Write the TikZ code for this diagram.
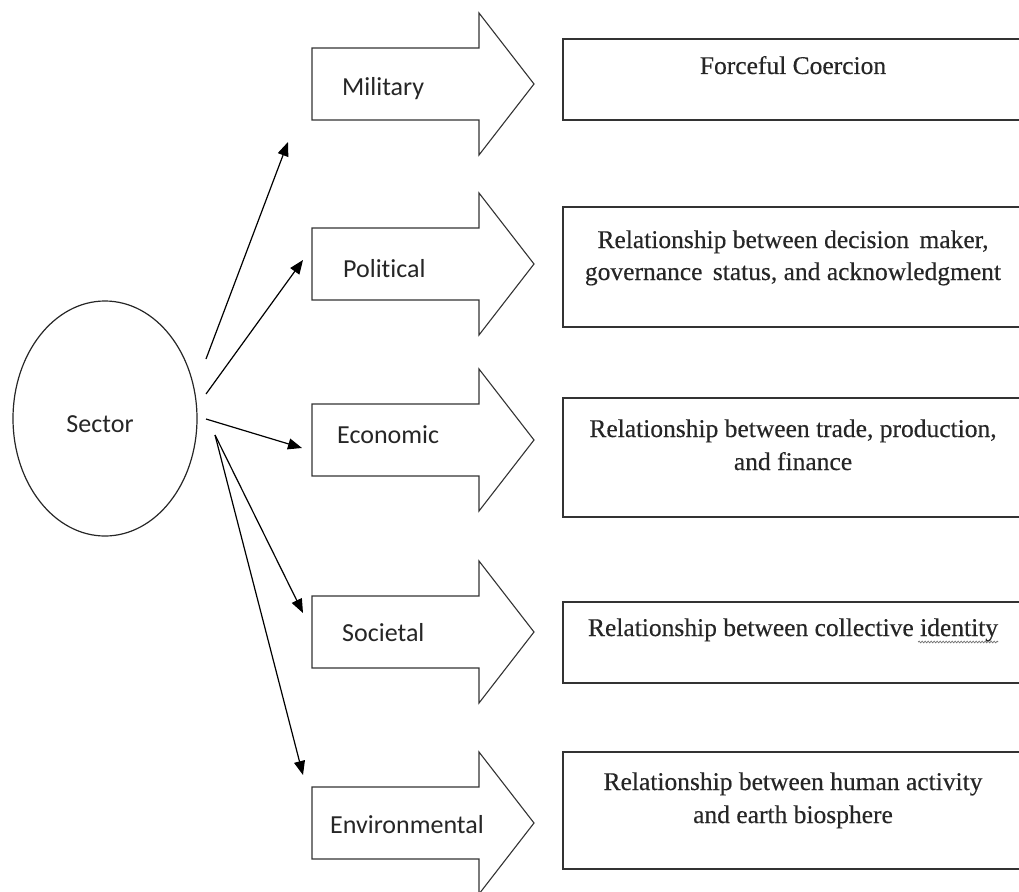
\documentclass[tikz,border=0pt]{standalone}
\usepackage{fontspec}
\setmainfont{Liberation Serif}
\newfontfamily\boxfont{Liberation Serif}[FakeBold=0.35]
\newfontfamily\lblfont{Carlito}[Ligatures=NoCommon]
\usetikzlibrary{arrows.meta,shapes.geometric,calc,decorations.pathmorphing}
\tikzset{
  pics/blockarrow/.style={code={
    \draw[blk] (0,-36) -- (167,-36) -- (167,-71) -- (222,0) -- (167,71) -- (167,36) -- (0,36) -- cycle;
  }},
}
\begin{document}
\begin{tikzpicture}[x=1pt,y=-1pt,
  blk/.style={draw=black!80, line width=1.1pt, line join=miter, fill=white},
  boxed/.style={draw=black!80, line width=1.8pt, fill=white, inner sep=0pt, anchor=north west, minimum width=462},
  lbl/.style={font=\lblfont\fontsize{26}{30}\selectfont, inner sep=0pt, anchor=base west, text=black!85},
  txt/.style={font=\boxfont\fontsize{25.5}{32}\selectfont, inner sep=0pt, anchor=base, text=black!85},
  conn/.style={line width=1.2pt, -{Triangle[length=14pt,width=11pt]}},
]
\useasboundingbox (0,0) rectangle (1019,891);

% sector ellipse
\node[draw=black!85, ellipse, line width=1.2pt, minimum width=184, minimum height=235, inner sep=0pt] (sector) at (105,418.5) {};
\node[font=\lblfont\fontsize{26}{30}\selectfont, inner sep=0pt, text=black!85] (sectortxt) at (100,424) {Sector};

% block arrows
\pic at (312,84) {blockarrow};
\pic at (312,264) {blockarrow};
\pic at (312,440) {blockarrow};
\pic at (312,632) {blockarrow};
\pic at (312,823) {blockarrow};

\node[lbl] (lM) at (342,95) {Military};
\node[lbl] (lP) at (343,277) {Political};
\node[lbl] (lE) at (337,443) {Economic};
\node[lbl] (lS) at (342,641) {Societal};
\node[lbl] (lV) at (330,833) {Environmental};

% boxes
\node[boxed, minimum height=81] (bM) at (562,38) {};
\node[boxed, minimum height=120] (bP) at (562,206) {};
\node[boxed, minimum height=119] (bE) at (562,397) {};
\node[boxed, minimum height=81] (bS) at (562,601) {};
\node[boxed, minimum height=117] (bV) at (562,751) {};

\node[txt] (tM) at (793,74) {Forceful Coercion};
\node[txt] (tP1) at (793,248) {Relationship between decision\hspace{4pt} maker,};
\node[txt] (tP2) at (793,280) {governance\hspace{4pt} status, and acknowledgment};
\node[txt] (tE1) at (793,437) {Relationship between trade, production,};
\node[txt] (tE2) at (793,470) {and finance};
\node[txt] (tS) at (793,636) {Relationship between collective identity};
\node[txt] (tV1) at (793,790) {Relationship between human activity};
\node[txt] (tV2) at (793,823) {and earth biosphere};

\draw[black!55, line width=0.8pt, decorate, decoration={snake, amplitude=0.8pt, segment length=3pt}]
  ($(tS.base east)+(-80,6)$) -- ($(tS.base east)+(0,6)$);

% connectors
\coordinate (m0) at (206,359); \coordinate (m1) at (288,142);
\coordinate (p0) at (206,394); \coordinate (p1) at (303,260);
\coordinate (e0) at (206,419); \coordinate (e1) at (302,448);
\coordinate (s0) at (215,435); \coordinate (s1) at (303,613);
\coordinate (v0) at (215,435); \coordinate (v1) at (303,775);
\draw[conn] (m0) -- (m1);
\draw[conn] (p0) -- (p1);
\draw[conn] (e0) -- (e1);
\draw[conn] (s0) -- (s1);
\draw[conn] (v0) -- (v1);
\end{tikzpicture}
\end{document}
